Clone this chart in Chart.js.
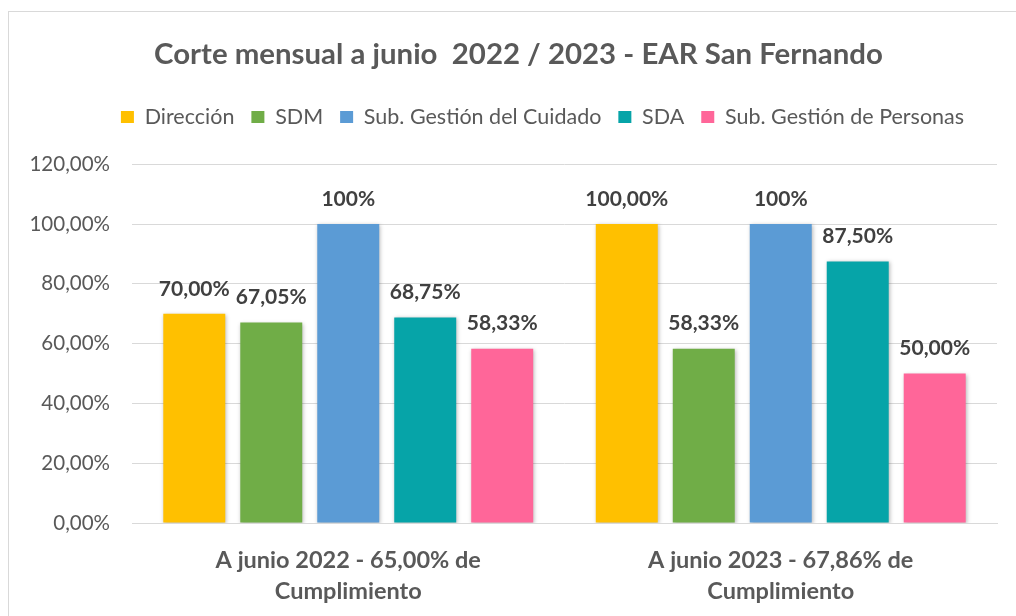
<!DOCTYPE html>
<html>
<head>
<meta charset="utf-8">
<script src="https://cdn.jsdelivr.net/npm/chart.js@4/dist/chart.umd.min.js"></script>
<style>
html,body{margin:0;padding:0;background:#fff;}
#wrap{position:absolute;left:0;top:0;width:1016px;height:616px;}
#frame{position:absolute;left:8px;top:11px;width:1020px;height:620px;border:1px solid #d9d9d9;box-sizing:border-box;}
canvas{position:absolute;left:0;top:0;}
</style>
</head>
<body>
<div id="wrap"><div id="frame"></div><canvas id="c" width="1016" height="616"></canvas></div>
<script>
const categories = [["A junio 2022 - 65,00% de","Cumplimiento"],["A junio 2023 - 67,86% de","Cumplimiento"]];
const seriesNames = ["Dirección","SDM","Sub. Gestión del Cuidado","SDA","Sub. Gestión de Personas"];
const direccion = [70.00, 100.00];
const sdm = [67.05, 58.33];
const subCuidado = [100, 100];
const sda = [68.75, 87.50];
const subPersonas = [58.33, 50.00];
const pointLabels = [
  ["70,00%","100,00%"],
  ["67,05%","58,33%"],
  ["100%","100%"],
  ["68,75%","87,50%"],
  ["58,33%","50,00%"]
];
const yTicks = [0,20,40,60,80,100,120];
const colors = ["#FFC000","#70AD47","#5B9BD5","#06A4A8","#FF6699"];
const FONT = "Lato, 'Open Sans', sans-serif";

const seriesValues = [direccion, sdm, subCuidado, sda, subPersonas];

const legendHeightPlugin = {
  id:'legendHeight',
  beforeInit(chart){
    const lg = chart.legend;
    const orig = lg.fit;
    lg.fit = function(){ orig.call(this); this.height = 75; };
  },
  afterLayout(chart){
    const t = chart.titleBlock, lg = chart.legend;
    if (t){ t.left += 20; t.right += 20; }
    if (lg){ lg.left += 44; lg.right += 44; }
  }
};

const labelPlugin = {
  id:'valueLabels',
  beforeDatasetsDraw(chart){
    const ctx = chart.ctx;
    ctx.save();
    ctx.shadowColor='rgba(0,0,0,0.28)';
    ctx.shadowBlur=4;
    ctx.shadowOffsetX=1;
    ctx.shadowOffsetY=1;
  },
  afterDatasetsDraw(chart){
    const ctx = chart.ctx;
    ctx.restore();
    ctx.save();
    ctx.font = "bold 21px " + FONT;
    ctx.fillStyle = "#404040";
    ctx.textAlign = "center";
    ctx.textBaseline = "middle";
    chart.data.datasets.forEach((ds,i)=>{
      const meta = chart.getDatasetMeta(i);
      meta.data.forEach((bar,j)=>{
        ctx.fillText(pointLabels[i][j], bar.x, bar.y - 25);
      });
    });
    ctx.restore();
  }
};

new Chart(document.getElementById('c'), {
  type:'bar',
  data:{
    labels: categories,
    datasets: seriesNames.map((n,i)=>({
      label:n,
      data:seriesValues[i],
      backgroundColor:colors[i],
      borderWidth:0,
      categoryPercentage:0.89,
      barPercentage:0.805
    }))
  },
  options:{
    responsive:false,
    animation:false,
    layout:{padding:{left:0,right:19,top:0,bottom:0}},
    plugins:{
      tooltip:{enabled:false},
      title:{
        display:true,
        text:"Corte mensual a junio  2022 / 2023 - EAR San Fernando",
        color:"#595959",
        font:{family:FONT,size:29.4,weight:'bold',lineHeight:1.2},
        padding:{top:37,bottom:17}
      },
      legend:{
        display:true,
        labels:{
          color:"#595959",
          font:{family:FONT,size:21.5},
          boxWidth:13,
          boxHeight:12,
          padding:17
        }
      }
    },
    scales:{
      x:{
        grid:{display:false,drawTicks:false},
        border:{display:true,color:"#d9d9d9"},
        ticks:{
          color:"#595959",
          font:{family:FONT,size:23.5,weight:'bold',lineHeight:1.32},
          padding:22,
          maxRotation:0
        },
        afterFit(s){ s.height = 93; }
      },
      y:{
        min:0,max:120,
        afterBuildTicks(s){ s.ticks = yTicks.map(v=>({value:v})); },
        grid:{color:"#d9d9d9",drawTicks:false},
        border:{display:false},
        ticks:{
          color:"#595959",
          font:{family:FONT,size:20.5},
          padding:22,
          callback:(v)=>v.toFixed(2).replace('.',',')+'%'
        },
        afterFit(s){ s.width = 132; }
      }
    }
  },
  plugins:[legendHeightPlugin, labelPlugin]
});
</script>
</body>
</html>
